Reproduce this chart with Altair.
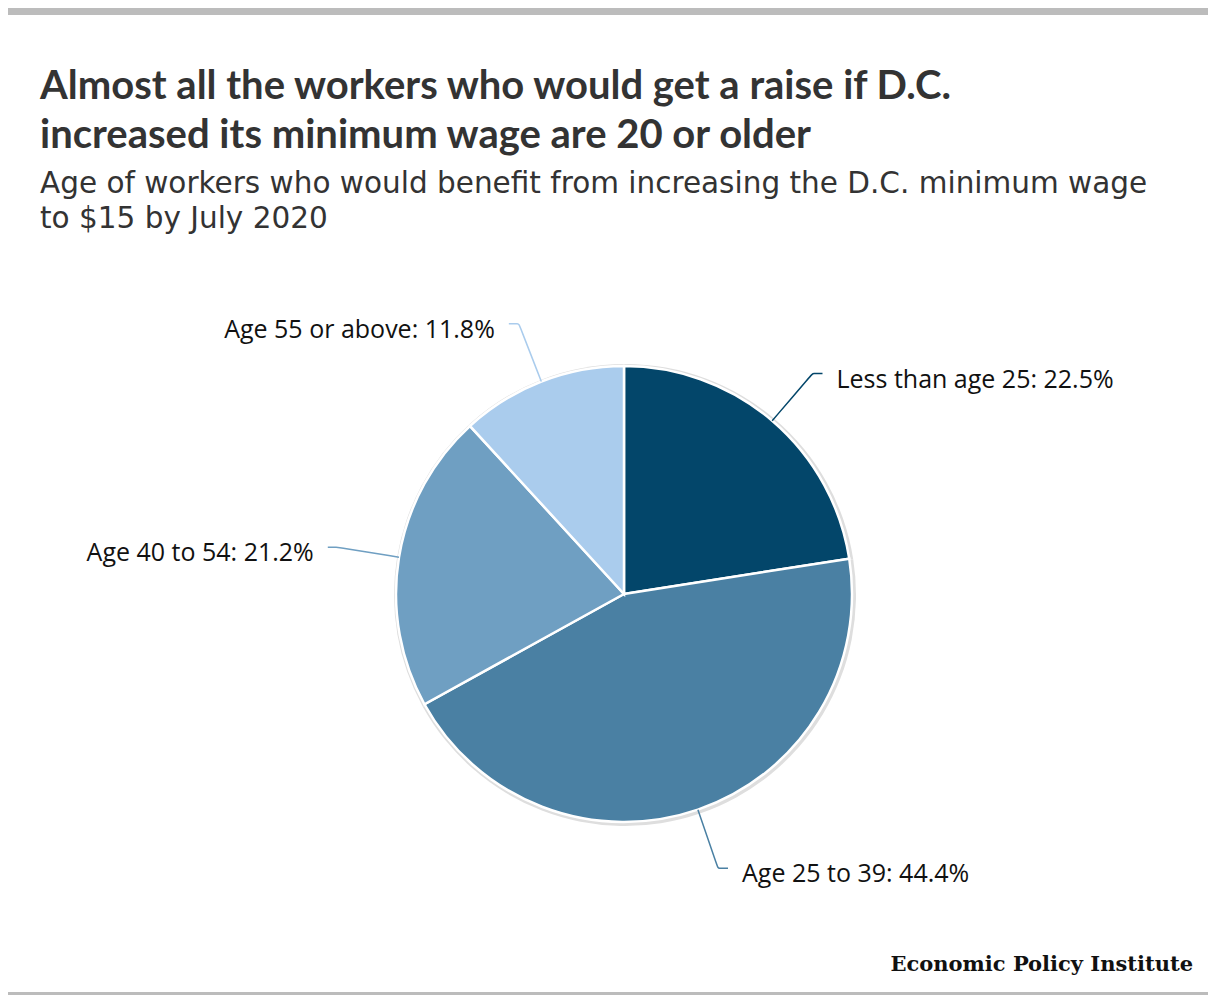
import altair as alt
import pandas as pd
import numpy as np

# ---- data -------------------------------------------------------------
categories = ["Less than age 25", "Age 25 to 39", "Age 40 to 54", "Age 55 or above"]
shares = [22.5, 44.4, 21.2, 11.8]
colors = ["#03466a", "#4a80a3", "#6f9fc2", "#aacced"]

title_lines = [
    "Almost all the workers who would get a raise if D.C.",
    "increased its minimum wage are 20 or older",
]
subtitle_lines = [
    "Age of workers who would benefit from increasing the D.C. minimum wage",
    "to $15 by July 2020",
]
source_text = "Economic Policy Institute"

# ---- layout constants -------------------------------------------------
W, H = 1200, 987
CX, CY, R = 616, 586, 228
R_ELBOW = 290
H_SEG = 10
GAP = 14
TITLE_FONT = "Lato"
SUB_FONT = "DejaVu Sans"
FONT = "Open Sans"

df = pd.DataFrame({"category": categories, "share": shares, "order": list(range(len(categories)))})
df["label"] = [f"{c}: {s:.1f}%" for c, s in zip(categories, shares)]
total = df["share"].sum()
mid = (df["share"].cumsum() - df["share"] / 2) / total * 2 * np.pi
df["ang"] = mid

# connector points and label anchors derived from slice angles
conn_rows = []
lab_rows = []
for _, r in df.iterrows():
    s, c = np.sin(r["ang"]), np.cos(r["ang"])
    sign = 1 if s > 0 else -1
    p0 = (CX + R * s, CY - R * c)
    p1 = (CX + R_ELBOW * s, CY - R_ELBOW * c)
    p2 = (p1[0] + sign * H_SEG, p1[1])
    for i, p in enumerate([p0, p1, p1, p2]):
        conn_rows.append({"category": r["category"], "pt": i, "px": p[0], "py": p[1]})
    lab_rows.append({"category": r["category"], "label": r["label"],
                     "lx": p2[0] + sign * GAP, "ly": p1[1] + 6,
                     "side": "right" if sign > 0 else "left"})
conn = pd.DataFrame(conn_rows)
labs = pd.DataFrame(lab_rows)

color_scale = alt.Scale(domain=categories, range=colors)
theta = alt.Theta("share:Q", stack=True)
order = alt.Order("order:Q")

base = alt.Chart(df)
shadow = base.mark_arc(radius=R + 3, color="#dedede").encode(
    theta=theta, order=order, x=alt.value(CX + 1), y=alt.value(CY + 1)
)
pie = base.mark_arc(radius=R, stroke="white", strokeWidth=2.5).encode(
    theta=theta,
    order=order,
    color=alt.Color("category:N", scale=color_scale, legend=None),
    x=alt.value(CX),
    y=alt.value(CY),
)

lines = alt.Chart(conn).mark_line(strokeWidth=1.5, interpolate="basis").encode(
    x=alt.X("px:Q", scale=None, axis=None),
    y=alt.Y("py:Q", scale=None, axis=None),
    detail="category:N",
    order="pt:Q",
    color=alt.Color("category:N", scale=color_scale, legend=None),
)

LABEL_SIZE = 25
lab_right = alt.Chart(labs).transform_filter(alt.datum.side == "right").mark_text(
    align="left", baseline="middle", font=FONT, fontSize=LABEL_SIZE, color="#111111"
).encode(x=alt.X("lx:Q", scale=None, axis=None), y=alt.Y("ly:Q", scale=None, axis=None), text="label:N")
lab_left = alt.Chart(labs).transform_filter(alt.datum.side == "left").mark_text(
    align="right", baseline="middle", font=FONT, fontSize=LABEL_SIZE, color="#111111"
).encode(x=alt.X("lx:Q", scale=None, axis=None), y=alt.Y("ly:Q", scale=None, axis=None), text="label:N")

dummy = pd.DataFrame({"k": [0]})


def text_block(txt, x, y, size, weight="normal", color="#333333", font=FONT,
               align="left", line_height=None):
    kw = dict(text=txt, align=align, baseline="alphabetic", fontSize=size,
              fontWeight=weight, color=color, font=font)
    if line_height is not None:
        kw["lineHeight"] = line_height
    return alt.Chart(dummy).mark_text(**kw).encode(x=alt.value(x), y=alt.value(y))


titles = [
    text_block(title_lines, 32, 91, 40, "bold", font=TITLE_FONT, line_height=49),
    text_block(subtitle_lines, 32, 185, 29.5, font=SUB_FONT, line_height=35),
    text_block(source_text, 1185, 963, 21, "bold", "#111111", "DejaVu Serif", "right"),
]

top_bar = alt.Chart(dummy).mark_rect(color="#bcbcbc").encode(
    x=alt.value(0), x2=alt.value(W), y=alt.value(0), y2=alt.value(7)
)
bottom_bar = alt.Chart(dummy).mark_rect(color="#bcbcbc").encode(
    x=alt.value(0), x2=alt.value(W), y=alt.value(H - 3), y2=alt.value(H)
)

chart = alt.layer(
    top_bar, bottom_bar, shadow, pie, lines, lab_right, lab_left, *titles
).properties(width=W, height=H, padding=0, background="white").configure_view(stroke=None)

chart.save("out.html", embed_options={"renderer": "svg", "actions": False})
